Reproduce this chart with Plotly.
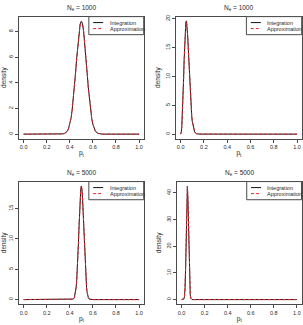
import plotly.graph_objects as go

# ---------------- data ----------------
x_tick_vals = [0.0, 0.2, 0.4, 0.6, 0.8, 1.0]
x_tick_text = ["0.0", "0.2", "0.4", "0.6", "0.8", "1.0"]
titles = ["N<sub>e</sub> = 1000", "N<sub>e</sub> = 1000",
          "N<sub>e</sub> = 5000", "N<sub>e</sub> = 5000"]
series_names = ["Integration", "Approximation"]
y_ticks = [[0, 2, 4, 6, 8], [0, 5, 10, 15, 20], [0, 5, 10, 15], [0, 10, 20, 30, 40]]

p1_x = [0.0, 0.1, 0.2, 0.3, 0.32, 0.34, 0.36, 0.38, 0.39, 0.40, 0.41, 0.42, 0.43, 0.44,
        0.45, 0.46, 0.47, 0.48, 0.49, 0.50, 0.51, 0.52, 0.53, 0.54, 0.55, 0.56, 0.57,
        0.58, 0.59, 0.60, 0.61, 0.62, 0.64, 0.66, 0.68, 0.7, 0.8, 0.9, 1.0]
p1_int = [0, 0, 0, 0, 0.0, 0.02, 0.07, 0.26, 0.46, 0.77, 1.22, 1.85, 2.67, 3.66,
          4.79, 5.96, 7.07, 7.98, 8.59, 8.80, 8.59, 7.98, 7.07, 5.96, 4.79, 3.66, 2.67,
          1.85, 1.22, 0.77, 0.46, 0.26, 0.07, 0.02, 0.0, 0, 0, 0, 0]
p1_app = [0, 0, 0, 0, 0.0, 0.02, 0.07, 0.26, 0.46, 0.77, 1.21, 1.84, 2.66, 3.65,
          4.78, 5.96, 7.07, 7.99, 8.60, 8.81, 8.60, 7.99, 7.07, 5.96, 4.78, 3.65, 2.66,
          1.84, 1.21, 0.77, 0.46, 0.26, 0.07, 0.02, 0.0, 0, 0, 0, 0]

p2_x = [0.0, 0.005, 0.01, 0.015, 0.02, 0.025, 0.03, 0.035, 0.04, 0.045, 0.05, 0.055,
        0.06, 0.065, 0.07, 0.075, 0.08, 0.085, 0.09, 0.095, 0.10, 0.11, 0.12, 0.13,
        0.14, 0.16, 0.2, 0.4, 0.6, 0.8, 1.0]
p2_int = [0, 0.3, 1.3, 3.2, 6.0, 9.4, 12.9, 16.0, 18.3, 19.5, 19.6, 18.8,
          17.2, 15.1, 12.7, 10.3, 8.1, 6.1, 4.5, 3.2, 2.2, 1.0, 0.4, 0.15,
          0.05, 0.01, 0, 0, 0, 0, 0]
p2_app = [0, 0.3, 1.3, 3.3, 6.1, 9.5, 13.0, 16.1, 18.4, 19.5, 19.6, 18.7,
          17.1, 15.0, 12.6, 10.2, 8.0, 6.1, 4.5, 3.2, 2.2, 1.0, 0.4, 0.15,
          0.05, 0.01, 0, 0, 0, 0, 0]

p3_x = [0.0, 0.1, 0.2, 0.3, 0.4, 0.42, 0.43, 0.44, 0.45, 0.455, 0.46, 0.465, 0.47,
        0.475, 0.48, 0.485, 0.49, 0.495, 0.50, 0.505, 0.51, 0.515, 0.52, 0.525, 0.53,
        0.535, 0.54, 0.545, 0.55, 0.56, 0.57, 0.58, 0.6, 0.7, 0.8, 0.9, 1.0]
p3_int = [0, 0, 0, 0, 0, 0.015, 0.08, 0.35, 1.19, 2.0, 3.2, 4.85, 6.9,
          9.4, 12.0, 14.6, 16.8, 18.2, 18.7, 18.2, 16.8, 14.6, 12.0, 9.4, 6.9,
          4.85, 3.2, 2.0, 1.19, 0.35, 0.08, 0.015, 0, 0, 0, 0, 0]
p3_app = [0, 0, 0, 0, 0, 0.015, 0.08, 0.35, 1.19, 2.0, 3.2, 4.85, 6.9,
          9.4, 12.0, 14.6, 16.8, 18.2, 18.7, 18.2, 16.8, 14.6, 12.0, 9.4, 6.9,
          4.85, 3.2, 2.0, 1.19, 0.35, 0.08, 0.015, 0, 0, 0, 0, 0]

p4_x = [0.0, 0.01, 0.015, 0.02, 0.025, 0.03, 0.035, 0.04, 0.045, 0.05, 0.055, 0.06,
        0.065, 0.07, 0.075, 0.08, 0.09, 0.1, 0.2, 0.4, 0.6, 0.8, 1.0]
p4_int = [0, 0, 0.02, 0.26, 1.2, 4.4, 11.9, 24.1, 36.9, 42.5, 37.5, 25.5,
          13.5, 5.5, 1.8, 0.5, 0.03, 0, 0, 0, 0, 0, 0]
p4_app = [0, 0, 0.02, 0.27, 1.2, 4.5, 12.0, 24.2, 37.0, 42.5, 37.4, 25.4,
          13.4, 5.5, 1.8, 0.5, 0.03, 0, 0, 0, 0, 0, 0]

panels = [(p1_x, p1_int, p1_app), (p2_x, p2_int, p2_app),
          (p3_x, p3_int, p3_app), (p4_x, p4_int, p4_app)]

# ---------------- layout geometry ----------------
W, H = 303, 325
# frame pixel boxes (left, right, top, bottom)
boxes = [(19, 143.7, 14.7, 137.5), (176, 301.7, 14.7, 137.5),
         (19, 143.7, 180.7, 304), (177, 301.5, 180.7, 304)]

FONT = "Liberation Sans, Arial, sans-serif"
FRAME = "#4a4a4a"
TXT = "#2a2a2a"

fig = go.Figure()
layout = dict(width=W, height=H, margin=dict(l=0, r=0, t=0, b=0),
              paper_bgcolor="white", plot_bgcolor="white", showlegend=False,
              font=dict(family=FONT, color=TXT, size=6))
annotations = []
shapes = []

for i, (px, yi, ya) in enumerate(panels):
    n = "" if i == 0 else str(i + 1)
    xa, ya_name = "x" + n, "y" + n
    fig.add_trace(go.Scatter(x=px, y=yi, mode="lines", name=series_names[0],
                             line=dict(color="#111111", width=1),
                             xaxis=xa, yaxis=ya_name))
    fig.add_trace(go.Scatter(x=px, y=ya, mode="lines", name=series_names[1],
                             line=dict(color="#e3262e", width=1, dash="3px,2px"),
                             xaxis=xa, yaxis=ya_name))
    l, r, t, b = boxes[i]
    m = max(max(yi), max(ya))
    axis_common = dict(showline=True, mirror=True, linecolor=FRAME, linewidth=1,
                       ticks="outside", ticklen=3, tickwidth=1, tickcolor=FRAME,
                       showgrid=False, zeroline=False,
                       tickfont=dict(size=5.5, family=FONT, color=TXT))
    layout["xaxis" + n] = dict(axis_common, domain=[l / W, r / W],
                               range=[-0.04, 1.04], anchor=ya_name,
                               tickvals=x_tick_vals, ticktext=x_tick_text,
                               title=dict(text="p<sub>t</sub>", standoff=1,
                                          font=dict(size=6.5, family=FONT, color=TXT)))
    layout["yaxis" + n] = dict(axis_common, domain=[1 - b / H, 1 - t / H],
                               range=[-0.04 * m, 1.04 * m], anchor=xa,
                               tickvals=y_ticks[i], tickangle=-90,
                               title=dict(text="density", standoff=3,
                                          font=dict(size=6.5, family=FONT, color=TXT)))
    # panel title
    annotations.append(dict(text=titles[i], xref="paper", yref="paper",
                            x=(l + r) / 2 / W, y=1 - (t - 8.5) / H,
                            xanchor="center", yanchor="middle", showarrow=False,
                            font=dict(size=6.5, family=FONT, color=TXT)))
    # legend box
    xd, yd = xa + " domain", ya_name + " domain"
    shapes.append(dict(type="rect", xref=xd, yref=yd, x0=0.56, x1=1.0, y0=0.852, y1=1.0,
                       line=dict(color=FRAME, width=1), fillcolor="white", layer="above"))
    shapes.append(dict(type="line", xref=xd, yref=yd, x0=0.595, x1=0.675,
                       y0=0.951, y1=0.951, line=dict(color="#111111", width=1), layer="above"))
    shapes.append(dict(type="line", xref=xd, yref=yd, x0=0.595, x1=0.675,
                       y0=0.902, y1=0.902, line=dict(color="#e3262e", width=1, dash="3px,2px"),
                       layer="above"))
    for k, yy in enumerate([0.951, 0.902]):
        annotations.append(dict(text=series_names[k], xref=xd, yref=yd, x=0.71, y=yy,
                                xanchor="left", yanchor="middle", showarrow=False,
                                font=dict(size=5.5, family=FONT, color=TXT)))

layout["annotations"] = annotations
layout["shapes"] = shapes
fig.update_layout(**layout)
fig.write_html("out.html")
